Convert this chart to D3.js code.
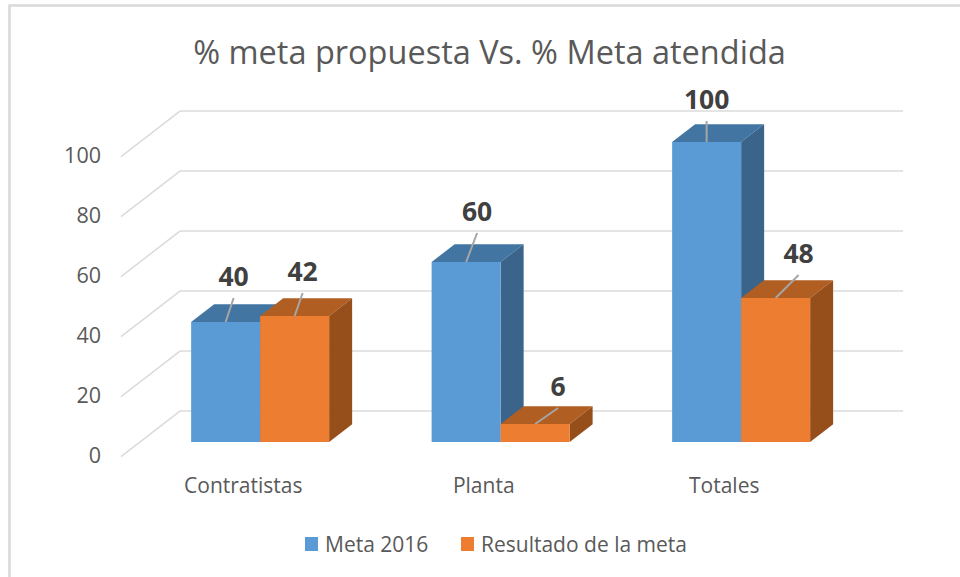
<!DOCTYPE html>
<html><head><meta charset="utf-8">
<script src="https://cdn.jsdelivr.net/npm/d3@7/dist/d3.min.js"></script>
<style>html,body{margin:0;padding:0;background:#fff}svg{display:block}text{font-family:"Open Sans",sans-serif}</style>
</head><body><svg id="c" width="960" height="577"></svg>
<script>
const titleText = "% meta propuesta Vs. % Meta atendida";
const categories = ["Contratistas", "Planta", "Totales"];
const seriesNames = ["Meta 2016", "Resultado de la meta"];
const meta2016 = [40, 60, 100];
const resultado = [42, 6, 48];
const yTicks = [0, 20, 40, 60, 80, 100];

const svg = d3.select("#c");
const frontLeft = 121, floorWidth = 723, floorFrontY = 456.6;
const wallDx = 59, wallDy = -45.6;
const barDepthStart = 0.32, barDepthEnd = 0.71;
const gridColor = "#dcdcdc", textColor = "#595959";

const x = d3.scaleBand().domain(categories).range([frontLeft, frontLeft + floorWidth - 1.5]);
const y = d3.scaleLinear().domain([0, 100]).range([floorFrontY, floorFrontY - 300]);
const seriesBand = d3.scaleBand().domain(seriesNames).range([0, 138]);
const colors = d3.scaleOrdinal().domain(seriesNames).range(["#5B9BD5", "#ED7D31"]);
const topColors = d3.scaleOrdinal().domain(seriesNames).range(["#4275A2", "#B15E22"]);
const sideColors = d3.scaleOrdinal().domain(seriesNames).range(["#3A6489", "#964F1B"]);

// Frame: top and left edges only
svg.append("path").attr("fill", "none").attr("stroke", "#d9d9d9").attr("stroke-width", 2.6)
  .attr("d", "M9.5,577V5.5H960");

svg.append("text").attr("x", 489.5).attr("y", 64).attr("text-anchor", "middle")
  .attr("font-size", 32.5).attr("fill", textColor).text(titleText);

// Walls and gridlines
svg.append("g").selectAll("path").data(yTicks).join("path")
  .attr("fill", "none").attr("stroke", gridColor).attr("stroke-width", 1.6)
  .attr("d", t => d3.line()([
    [frontLeft, y(t)],
    [frontLeft + wallDx, y(t) + wallDy],
    [frontLeft + wallDx + floorWidth, y(t) + wallDy]
  ]));

svg.append("g").selectAll("text").data(yTicks).join("text")
  .attr("x", 101).attr("y", t => y(t) + 6).attr("text-anchor", "end")
  .attr("font-size", 21.5).attr("fill", textColor).text(d => d);

// Bars
const depthX = wallDx * (barDepthEnd - barDepthStart);
const depthY = wallDy * (barDepthEnd - barDepthStart);
const offX = wallDx * barDepthStart, offY = wallDy * barDepthStart;
const bw = seriesBand.bandwidth();
const barLeft = (cat, s) => x(cat) + (x.bandwidth() - 138) / 2 + seriesBand(s) + offX;
const barTop = v => y(v) + offY, barBase = y(0) + offY;

const bars = [];
categories.forEach((c, i) => {
  bars.push({c, s: seriesNames[0], v: meta2016[i]});
  bars.push({c, s: seriesNames[1], v: resultado[i]});
});

const poly = (g, pts, fill) => g.append("polygon").attr("points", pts.join(" ")).attr("fill", fill);
bars.forEach(d => {
  const g = svg.append("g");
  const l = barLeft(d.c, d.s), r = l + bw, t = barTop(d.v);
  poly(g, [[l, t], [r, t], [r + depthX, t + depthY], [l + depthX, t + depthY]], topColors(d.s));
  poly(g, [[r, t], [r + depthX, t + depthY], [r + depthX, barBase + depthY], [r, barBase]], sideColors(d.s));
  poly(g, [[l, t], [r, t], [r, barBase], [l, barBase]], colors(d.s));
});

// Data labels with leader lines (leader offset relative to the bar's top centre)
const leaderOffsets = [[8, -24], [8, -23], [11, -29], [23, -16], [0, -21], [23, -23]];
bars.forEach((d, i) => {
  const cx = barLeft(d.c, d.s) + bw / 2, t = barTop(d.v);
  const [dx, dy] = leaderOffsets[i];
  svg.append("line").attr("x1", cx).attr("y1", t).attr("x2", cx + dx).attr("y2", t + dy)
    .attr("stroke", "#a6a6a6").attr("stroke-width", 2);
  svg.append("text").attr("x", cx + dx).attr("y", t + dy - 12).attr("text-anchor", "middle")
    .attr("font-size", 26.5).attr("font-weight", 700).attr("fill", "#404040").text(d.v);
});

// Category labels
svg.append("g").selectAll("text").data(categories).join("text")
  .attr("x", d => x(d) + x.bandwidth() / 2 + 2).attr("y", 493).attr("text-anchor", "middle")
  .attr("font-size", 21).attr("fill", textColor).text(d => d);

// Legend
const legendX = [305, 461];
const legend = svg.append("g").selectAll("g").data(seriesNames).join("g")
  .attr("transform", (d, i) => `translate(${legendX[i]},537)`);
legend.append("rect").attr("width", 13).attr("height", 14).attr("fill", d => colors(d));
legend.append("text").attr("x", 20).attr("y", 15).attr("font-size", 21).attr("fill", textColor).text(d => d);
</script></body></html>
